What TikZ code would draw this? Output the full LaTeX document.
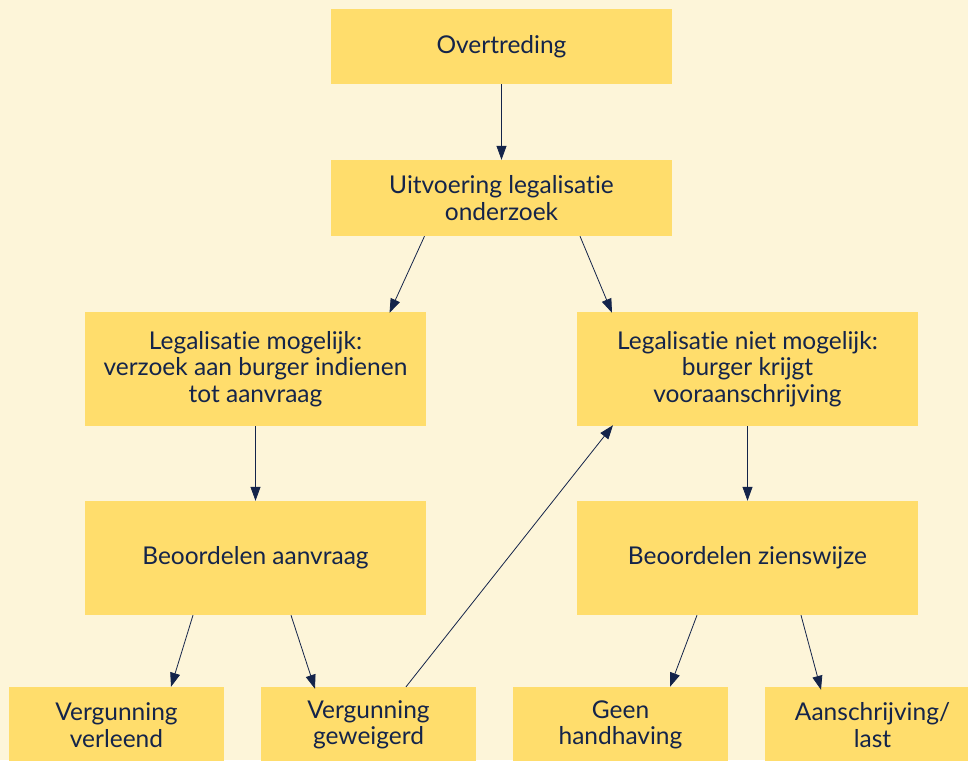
\documentclass[tikz,border=0pt]{standalone}
\usepackage{fontspec}
\setmainfont{Lato}[Ligatures=NoCommon]
\usetikzlibrary{arrows.meta}
\definecolor{bgc}{HTML}{FDF5D9}
\definecolor{boxc}{HTML}{FFDD6C}
\definecolor{navy}{HTML}{14244A}
\begin{document}
\begin{tikzpicture}[x=1pt,y=-1pt,
  box/.style={fill=boxc,draw=none,minimum width=341pt,align=center,text=navy,
    font=\fontsize{24.5}{26.5}\selectfont,inner sep=0pt},
  smallbox/.style={box,minimum width=215pt,minimum height=76pt},
  arr/.style={draw=navy,line width=0.8pt,-{Triangle[length=14pt,width=10pt]}}]
\fill[bgc] (0,0) rectangle (968,760);
\useasboundingbox (0,0) rectangle (968,760);
\node[box,minimum height=75pt] (ov) at (501.5,46.5) {Overtreding};
\node[box,minimum height=76pt] (uv) at (501.5,198) {Uitvoering legalisatie\\onderzoek};
\node[box,minimum height=114pt] (lm) at (255.5,369) {Legalisatie mogelijk:\\verzoek aan burger indienen\\tot aanvraag};
\node[box,minimum height=114pt] (nm) at (747.5,369) {Legalisatie niet mogelijk:\\burger krijgt\\vooraanschrijving};
\node[box,minimum height=114pt] (ba) at (255.5,558) {Beoordelen aanvraag};
\node[box,minimum height=114pt] (bz) at (747.5,558) {Beoordelen zienswijze};
\node[smallbox] (vv) at (116.5,725) {Vergunning\\verleend};
\node[smallbox] (vg) at (368.5,725) {Vergunning\\geweigerd};
\node[smallbox] (gh) at (620.5,725) {Geen\\handhaving};
\node[smallbox] (as) at (872.5,725) {Aanschrijving/\\last};
\draw[arr] (ov.south) -- (uv.north);
\draw[arr] ([xshift=-77pt]uv.south) -- ([xshift=134pt,yshift=-1pt]lm.north);
\draw[arr] ([xshift=78.5pt]uv.south) -- ([xshift=-135.5pt,yshift=-1pt]nm.north);
\draw[arr] (lm.south) -- (ba.north);
\draw[arr] (nm.south) -- (bz.north);
\draw[arr] ([xshift=-62.5pt]ba.south) -- ([xshift=54.5pt]vv.north);
\draw[arr] ([xshift=35.5pt]ba.south) -- ([xshift=-53.5pt,yshift=-2pt]vg.north);
\draw[arr] ([xshift=37.5pt]vg.north) -- ([xshift=-134.5pt,yshift=1pt]nm.south);
\draw[arr] ([xshift=-50.5pt]bz.south) -- ([xshift=49.5pt]gh.north);
\draw[arr] ([xshift=53.5pt]bz.south) -- ([xshift=-51.5pt,yshift=-3pt]as.north);
\end{tikzpicture}
\end{document}
